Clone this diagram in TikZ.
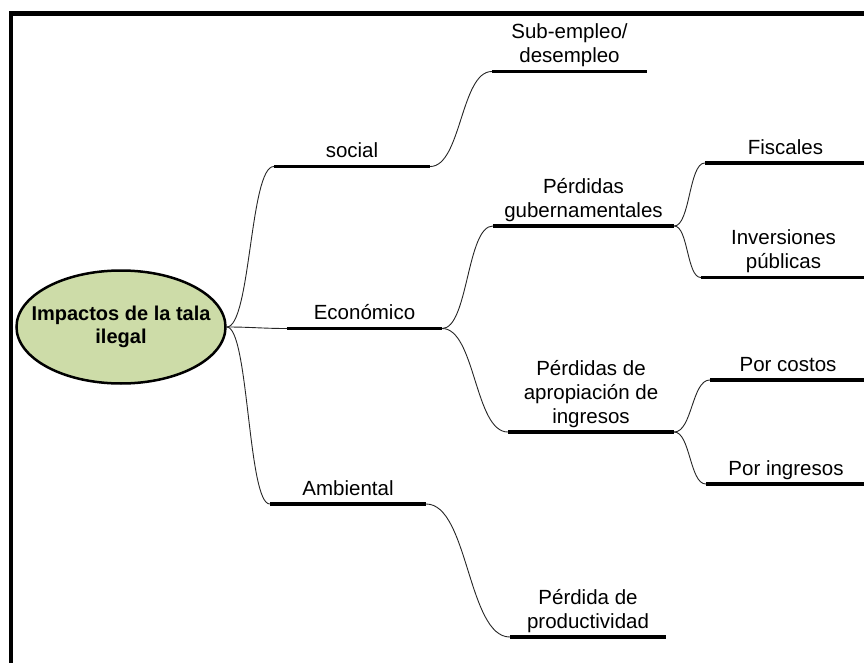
\documentclass[tikz,border=0pt]{standalone}
\usepackage{fontspec}
\setmainfont{Liberation Sans}
\usepackage{tikz}
\usetikzlibrary{shapes.geometric}
\definecolor{rootgreen}{RGB}{205,220,168}
\tikzstyle{root}=[ellipse,draw=black,line width=2.5pt,fill=rootgreen,minimum width=209pt,minimum height=113pt,inner xsep=-20pt,inner ysep=0pt,align=center,font=\fontsize{20}{22.5}\selectfont\bfseries]
\tikzstyle{topic}=[anchor=south,inner xsep=0pt,inner ysep=8.5pt,text depth=0pt,align=center,font=\fontsize{20.5}{24}\selectfont]
\tikzstyle{bar}=[draw,line width=3.6pt]
\tikzstyle{conn}=[draw,line width=0.9pt,black!85]
\tikzstyle{frame}=[draw,line width=4.5pt]

\begin{document}
\begin{tikzpicture}[x=1pt,y=-1pt]

  \useasboundingbox (0,0) rectangle (864,663);

  % border of the page
  \draw[frame] (11,670) -- (11,13.5) -- (870,13.5);

  \node[root] (root) at (121,327) {Impactos de la tala\\ilegal};

  \foreach \x/\y/\w/\name/\txt in {352/166.5/156/social/{social}, 364.5/328.5/155/econ/{Económico}, 348/504/156/amb/{Ambiental},
      569.5/71.5/155/sub/{Sub-empleo/\\desempleo}, 583.5/226/181/gub/{Pérdidas\\gubernamentales}, 591/432/166/aprop/{Pérdidas de\\apropiación de\\ingresos}, 588/637/156/prod/{Pérdida de\\productividad},
      785.5/163/161/fisc/{Fiscales}, 783.5/277.5/165/inv/{Inversiones\\públicas}, 788/380/156/costos/{Por costos}, 786/484/160/ingr/{Por ingresos}}
  {
    \node[topic,minimum width=\w pt] (\name) at (\x,\y) {\txt};
    \path[bar] (\name.south west) -- (\name.south east);
  }

  \foreach \s/\t/\c in {root.east/social.south west/24, root.east/econ.south west/25, root.east/amb.south west/22,
      social.south east/sub.south west/31, econ.south east/gub.south west/26, econ.south east/aprop.south west/33,
      amb.south east/prod.south west/42}
    \path[conn] (\s) .. controls +(\c,0) and +(-\c,0) .. (\t);

  \foreach \s/\t/\c in {gub/fisc/16, gub/inv/14, aprop/costos/18, aprop/ingr/16}
    \path[conn] (\s.south east) .. controls +(\c,0) and +(-\c,0) .. (\t.south west);

\end{tikzpicture}
\end{document}
